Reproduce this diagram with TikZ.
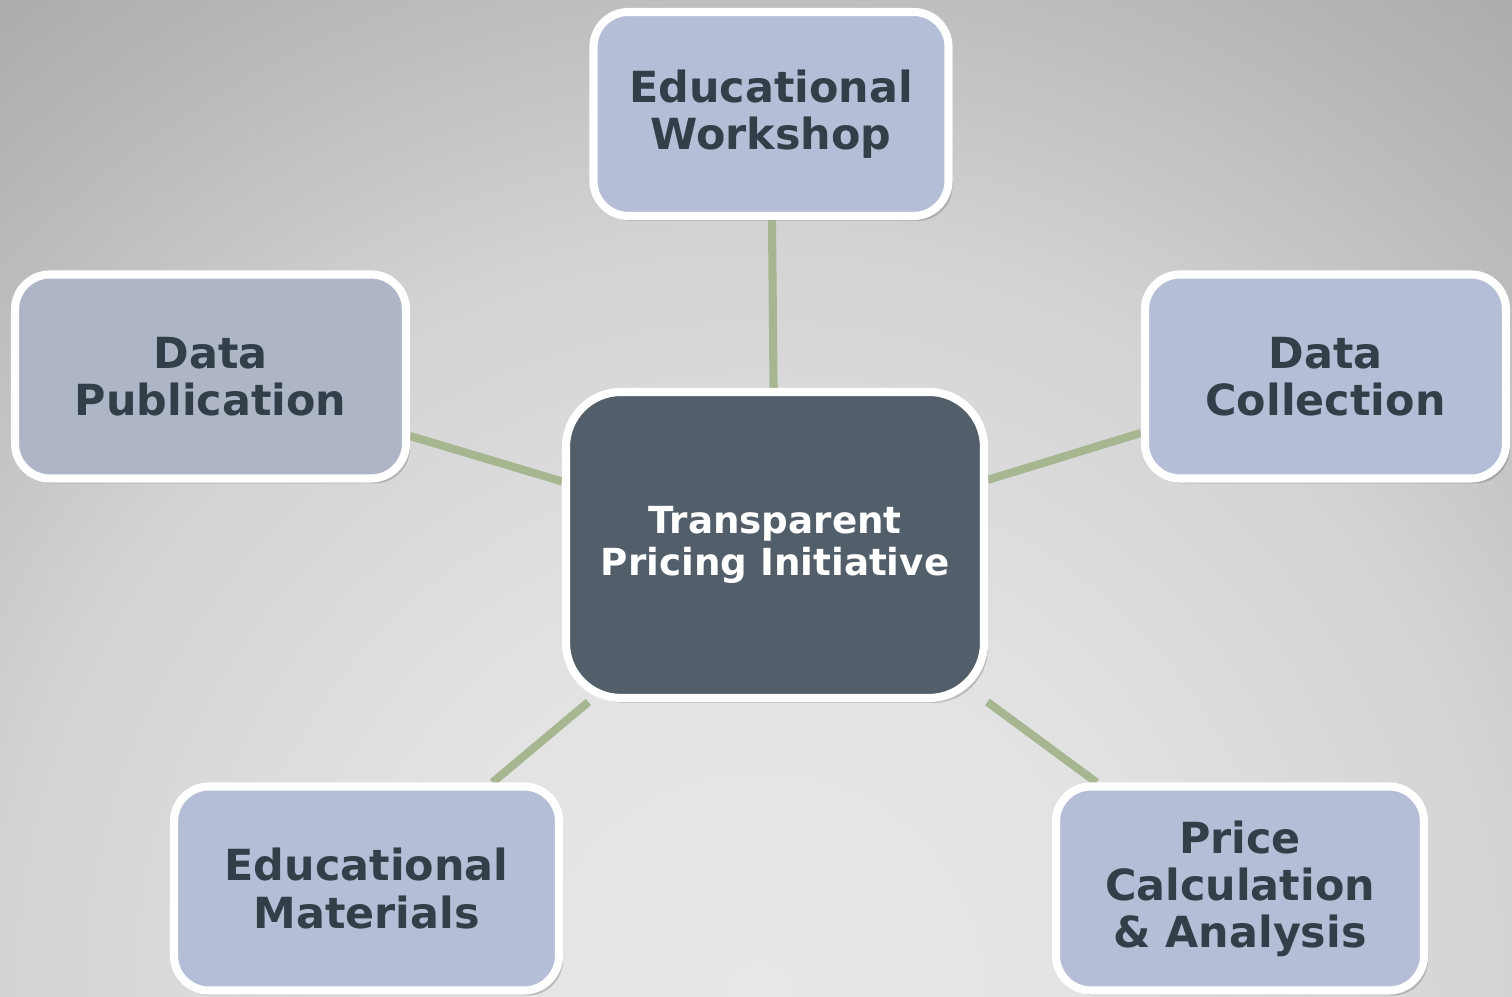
\documentclass[tikz,border=0pt]{standalone}
\usepackage{fontspec}
\setmainfont{DejaVu Sans}
\usepackage{tikz}
\usetikzlibrary{positioning,shadows}
\usepackage{xcolor}
\definecolor{hubcolor}{RGB}{82,95,107}
\definecolor{spokecolor}{RGB}{180,190,214}
\definecolor{pubcolor}{RGB}{174,181,199}
\definecolor{labelcolor}{RGB}{51,63,72}
\definecolor{linkcolor}{RGB}{165,182,145}
\definecolor{bgA}{RGB}{232,232,232}
\definecolor{bgB}{RGB}{226,226,226}
\definecolor{bgC}{RGB}{211,211,211}
\definecolor{bgD}{RGB}{189,189,189}
\definecolor{bgE}{RGB}{168,168,168}
\pgfdeclareradialshading{backdrop}{\pgfpointorigin}{%
  color(0bp)=(bgA); color(7.5bp)=(bgB); color(14.6bp)=(bgC);
  color(19.6bp)=(bgD); color(25bp)=(bgE); color(50bp)=(bgE)}
\pgfdeclarelayer{shadebg}
\pgfdeclarelayer{spokes}
\pgfsetlayers{shadebg,spokes,main}

\begin{document}
\begin{tikzpicture}[thick]
  % Estilos
  \tikzset{
    box/.style={rectangle,draw=white,line width=2.3pt,align=center,
      drop shadow={shadow xshift=0.04cm,shadow yshift=-0.05cm,
        fill=black!70,opacity=0.25}},
    hub/.style={box,rounded corners=0.55cm,fill=hubcolor,text=white,
      minimum width=4.18cm,minimum height=3.06cm,
      font=\bfseries\fontsize{10.6}{11.8}\selectfont},
    spoke/.style={box,rounded corners=0.35cm,fill=spokecolor,text=labelcolor,
      minimum height=2.04cm,font=\bfseries\fontsize{12.2}{13.4}\selectfont},
    link/.style={draw=linkcolor,line width=2.3pt}
  }
  \useasboundingbox (0,0) rectangle (15.12,9.97);

  %================= FONDO =================
  \begin{pgfonlayer}{shadebg}
    \begin{scope}
      \clip (0,0) rectangle (15.12,9.97);
      \shade[shading=backdrop] (7.6,0) circle (13cm);
    \end{scope}
  \end{pgfonlayer}

  %================= NODOS =================
  \node[hub] (hub) at (7.75,4.52) {Transparent\\Pricing Initiative};

  \node[spoke,minimum width=3.55cm] (workshop) at (7.71,8.83)
    {Educational\\Workshop};
  \node[spoke,minimum width=3.91cm,fill=pubcolor] (publication) at (2.105,6.205)
    {Data\\Publication};
  \node[spoke,minimum width=3.61cm] (collection) at (13.255,6.205)
    {Data\\Collection};
  \node[spoke,minimum width=3.85cm] (materials) at (3.665,1.085)
    {Educational\\Materials};
  \node[spoke,minimum width=3.68cm] (pricecalc) at (12.40,1.085)
    {Price\\Calculation\\\& Analysis};

  %================= CONEXIONES =================
  \begin{pgfonlayer}{spokes}
    \foreach \sat in {workshop,publication,collection,materials,pricecalc}
      \draw[link] (hub) -- (\sat);
  \end{pgfonlayer}

\end{tikzpicture}
\end{document}
